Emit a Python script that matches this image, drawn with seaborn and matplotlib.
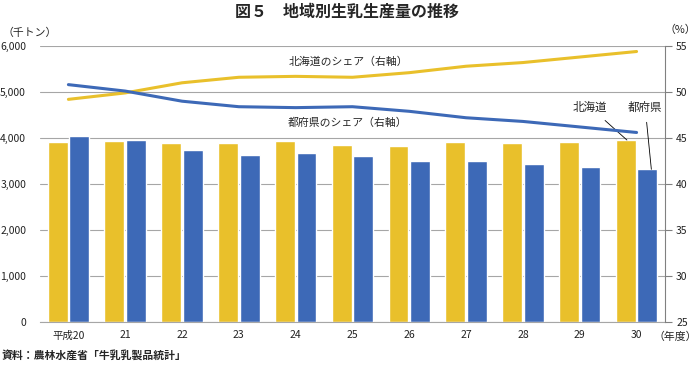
import numpy as np
import pandas as pd
import matplotlib
matplotlib.use("Agg")
import matplotlib.pyplot as plt
import seaborn as sns

# data
years = ["平成20", "21", "22", "23", "24", "25", "26", "27", "28", "29", "30"]
hokkaido = [3906, 3928, 3884, 3884, 3928, 3848, 3819, 3906, 3898, 3913, 3956]
prefectures = [4036, 3950, 3732, 3638, 3674, 3609, 3507, 3493, 3435, 3362, 3319]
hokkaido_share = [49.2, 49.9, 51.0, 51.6, 51.7, 51.6, 52.1, 52.8, 53.2, 53.8, 54.4]
prefecture_share = [50.8, 50.1, 49.0, 48.4, 48.3, 48.4, 47.9, 47.2, 46.8, 46.2, 45.6]

YELLOW = "#E9C02B"
BLUE = "#3D69B7"

sns.set_style("white")
plt.rcParams["font.family"] = ["Noto Sans CJK JP", "DejaVu Sans"]

df = pd.DataFrame({
    "year": years * 2,
    "value": hokkaido + prefectures,
    "region": ["北海道"] * len(years) + ["都府県"] * len(years),
})

fig = plt.figure(figsize=(6.98, 3.65), dpi=100)
ax = fig.add_axes([0.0573, 0.1178, 0.8954, 0.7562])

sns.barplot(data=df, x="year", y="value", hue="region", order=years,
            hue_order=["北海道", "都府県"], palette=[YELLOW, BLUE],
            width=0.76, gap=0.08, saturation=1, legend=False, ax=ax)
ax.set_xlim(-0.5, len(years) - 0.5)
ax.set_ylim(0, 6000)
ax.set_yticks(range(0, 6001, 1000))
ax.set_yticklabels([f"{v:,}" for v in range(0, 6001, 1000)])
ax.set_xlabel("")
ax.set_ylabel("")
ax.set_axisbelow(True)
ax.yaxis.grid(True, color="#a6a6a6", linewidth=0.8)
ax.tick_params(axis="both", length=0, labelsize=7.5, colors="#222222")
ax.tick_params(axis="x", pad=6)
ax.tick_params(axis="y", pad=10)
for s in ["left", "top", "right"]:
    ax.spines[s].set_visible(False)
ax.spines["bottom"].set_color("#a6a6a6")

# share lines on the right axis
ax2 = ax.twinx()
pos = np.arange(len(years))
sns.lineplot(x=pos, y=hokkaido_share, color=YELLOW, linewidth=2.2, ax=ax2)
sns.lineplot(x=pos, y=prefecture_share, color=BLUE, linewidth=2.2, ax=ax2)
ax2.set_ylim(25, 55)
ax2.set_yticks(range(25, 56, 5))
ax2.tick_params(axis="y", length=5, width=0.8, color="#808080", labelsize=7.5,
                colors="#222222", pad=3)
for s in ["left", "top", "bottom"]:
    ax2.spines[s].set_visible(False)
ax2.spines["right"].set_color("#808080")
ax2.spines["right"].set_linewidth(0.8)
ax2.tick_params(axis="y", color="#808080")

# annotations
ax.text(4.92, 5652, "北海道のシェア（右軸）", ha="center", va="center", fontsize=7.8)
ax.text(4.92, 4326, "都府県のシェア（右軸）", ha="center", va="center", fontsize=7.8)
ax.annotate("北海道", xy=(9.83, 3956), xytext=(9.18, 4674), ha="center", va="center",
            fontsize=8.3, arrowprops=dict(arrowstyle="-", color="black", lw=0.6, shrinkA=4, shrinkB=0))
ax.annotate("都府県", xy=(10.26, 3319), xytext=(10.15, 4674), ha="center", va="center",
            fontsize=8.3, arrowprops=dict(arrowstyle="-", color="black", lw=0.6, shrinkA=4, shrinkB=0))

fig.text(0.497, 0.967, "図５　地域別生乳生産量の推移", ha="center", va="center",
         fontsize=11.5, fontweight="bold")
fig.text(0.004, 0.909, "（千トン）", ha="left", va="center", fontsize=7.8)
fig.text(0.997, 0.918, "（%）", ha="right", va="center", fontsize=7.8)
fig.text(0.999, 0.077, "（年度）", ha="right", va="center", fontsize=7.8)
fig.text(0.003, 0.027, "資料：農林水産省「牛乳乳製品統計」", ha="left", va="center",
         fontsize=7.8, fontweight="bold")

fig.savefig("out.png", dpi=100)
